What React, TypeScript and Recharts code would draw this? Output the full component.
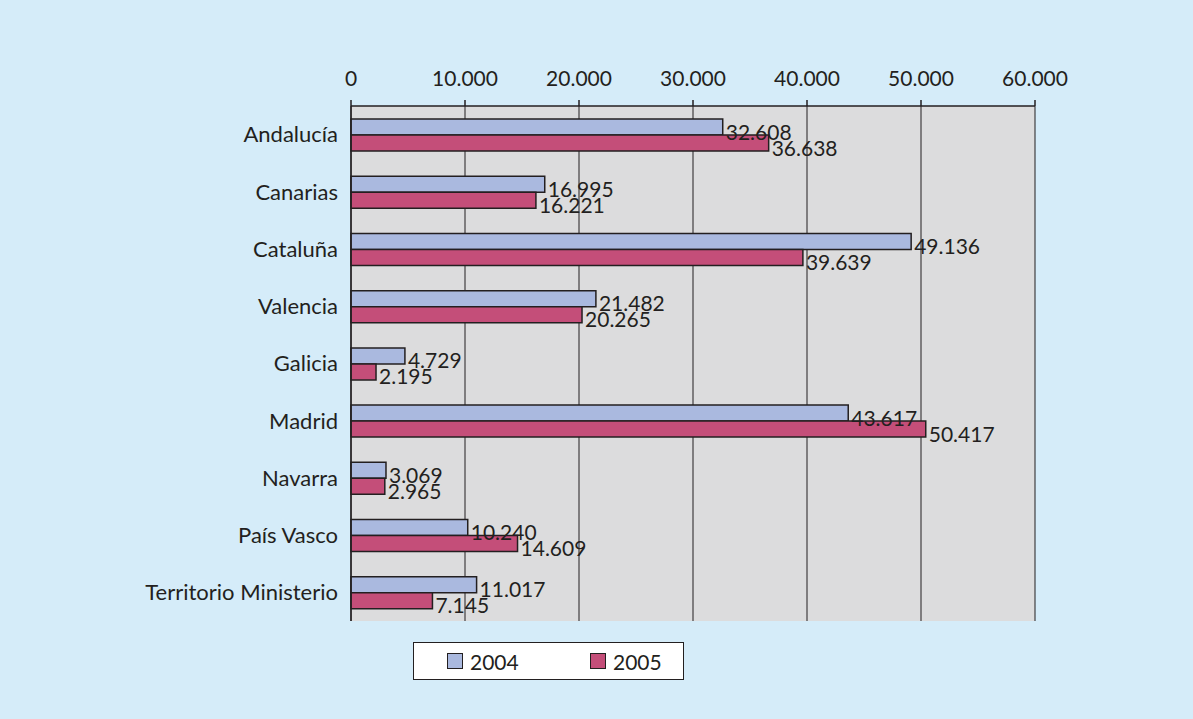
import React from 'react';
import { BarChart, Bar, XAxis, YAxis, CartesianGrid, LabelList } from 'recharts';

const regions = [
  'Andalucía',
  'Canarias',
  'Cataluña',
  'Valencia',
  'Galicia',
  'Madrid',
  'Navarra',
  'País Vasco',
  'Territorio Ministerio',
];
const values2004 = [32608, 16995, 49136, 21482, 4729, 43617, 3069, 10240, 11017];
const values2005 = [36638, 16221, 39639, 20265, 2195, 50417, 2965, 14609, 7145];
const xTicks = [0, 10000, 20000, 30000, 40000, 50000, 60000];
const seriesNames = ['2004', '2005'];

const INK = '#231f20';
const BLUE = '#aab9df';
const RED = '#c44e79';
const FONT = 'Lato, "Open Sans", sans-serif';

const data = regions.map((region, i) => ({
  region,
  y2004: values2004[i],
  y2005: values2005[i],
}));

const fmt = (v: number) => String(v).replace(/\B(?=(\d{3})+(?!\d))/g, '.');

const ValueLabel = (props: any) => {
  const { x, y, width, height, value } = props;
  return (
    <text
      x={x + width + 3}
      y={y + height / 2 + 4}
      fill={INK}
      fontSize={21}
      fontFamily={FONT}
      dominantBaseline="central"
    >
      {fmt(value)}
    </text>
  );
};

const LegendBox = () => (
  <div
    style={{
      position: 'absolute',
      left: 413,
      top: 642,
      width: 269,
      height: 36,
      background: '#fff',
      border: `1px solid ${INK}`,
      fontFamily: FONT,
      fontSize: 21,
      color: INK,
    }}
  >
    {seriesNames.map((name, i) => (
      <div
        key={name}
        style={{
          position: 'absolute',
          left: i === 0 ? 33 : 176,
          top: 0,
          height: 36,
          display: 'flex',
          alignItems: 'center',
        }}
      >
        <span
          style={{
            display: 'inline-block',
            width: 14,
            height: 14,
            background: i === 0 ? BLUE : RED,
            border: `1px solid ${INK}`,
            marginRight: 7,
          }}
        />
        {name}
      </div>
    ))}
  </div>
);

export default function App() {
  return (
    <div
      style={{
        position: 'absolute',
        left: 0,
        top: 0,
        width: 1193,
        height: 719,
        background: '#d5ecf9',
      }}
    >
      <BarChart
        width={1193}
        height={719}
        data={data}
        layout="vertical"
        margin={{ top: 76, right: 158, bottom: 98, left: 101 }}
        barGap={0}
        barSize={16}
      >
        <CartesianGrid
          horizontal={false}
          stroke={INK}
          strokeWidth={1}
          fill="#dcdcdd"
          fillOpacity={1}
        />
        <XAxis
          type="number"
          orientation="top"
          domain={[0, 60000]}
          ticks={xTicks}
          tickFormatter={fmt}
          height={30}
          tickSize={6}
          tickMargin={14}
          axisLine={{ stroke: INK, strokeWidth: 1.5 }}
          tickLine={{ stroke: INK, strokeWidth: 1.5 }}
          tick={{ fill: INK, fontSize: 21, fontFamily: FONT }}
          interval={0}
        />
        <XAxis
          xAxisId="bottom"
          type="number"
          orientation="bottom"
          domain={[0, 60000]}
          height={0}
          tick={false}
          tickLine={false}
          axisLine={{ stroke: INK, strokeWidth: 1.5 }}
        />
        <YAxis
          type="category"
          dataKey="region"
          width={250}
          tickSize={5}
          tickMargin={8}
          tickLine={false}
          axisLine={{ stroke: INK, strokeWidth: 1.5 }}
          tick={{ fill: INK, fontSize: 22, fontFamily: FONT }}
          interval={0}
        />
        <YAxis
          yAxisId="bounds"
          type="number"
          domain={[0, regions.length]}
          ticks={regions.map((_, i) => i).concat(regions.length)}
          width={0}
          tickSize={5}
          tick={false}
          axisLine={false}
          tickLine={{ stroke: INK, strokeWidth: 1.5 }}
          interval={0}
        />
        <Bar dataKey="y2004" name={seriesNames[0]} fill={BLUE} stroke={INK} strokeWidth={1.5} isAnimationActive={false}>
          <LabelList dataKey="y2004" content={ValueLabel} />
        </Bar>
        <Bar dataKey="y2005" name={seriesNames[1]} fill={RED} stroke={INK} strokeWidth={1.5} isAnimationActive={false}>
          <LabelList dataKey="y2005" content={ValueLabel} />
        </Bar>
      </BarChart>
      <LegendBox />
    </div>
  );
}
